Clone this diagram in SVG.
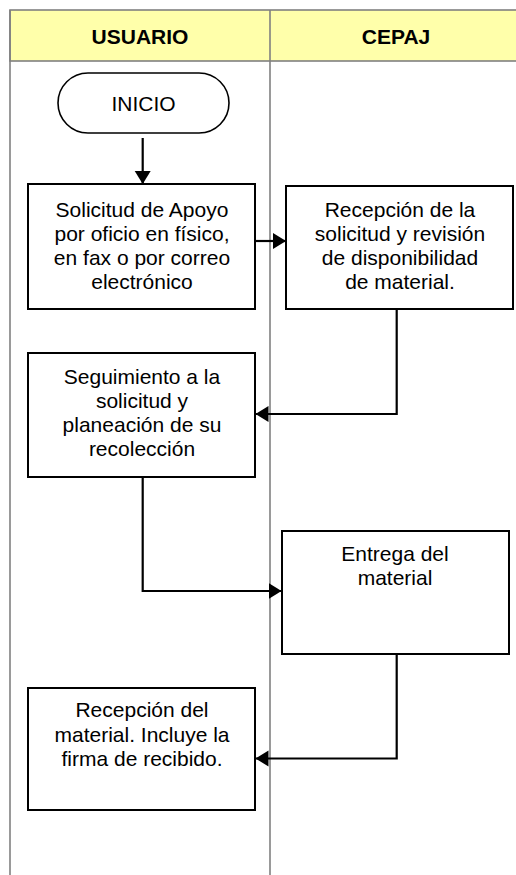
<svg xmlns="http://www.w3.org/2000/svg" width="516" height="875" viewBox="0 0 516 875">
<style>
.lane{stroke:#808080;stroke-width:1.6;fill:none}
.hdr{fill:#FFFFAA;stroke:#808080;stroke-width:1.6}
.ht{font-family:"Liberation Sans",Arial,sans-serif;font-weight:bold;font-size:21px;text-anchor:middle;fill:#000}
.box{fill:#fff;stroke:#000;stroke-width:2}
.t{font-family:"Liberation Sans",Arial,sans-serif;font-size:21px;text-anchor:middle;fill:#000}
.c{fill:none;stroke:#000;stroke-width:2.2;marker-end:url(#ah)}
</style>
<defs>
<marker id="ah" markerUnits="userSpaceOnUse" markerWidth="14" markerHeight="17" refX="13" refY="8" orient="auto">
<path d="M0,0 L13,8 L0,16 z" fill="#000"/>
</marker>
</defs>
<rect width="516" height="875" fill="#fff"/>
<g id="lanes">
<rect class="hdr" x="10" y="10" width="512" height="51"/>
<line class="lane" x1="10" y1="10" x2="10" y2="875"/>
<line class="lane" x1="270" y1="10" x2="270" y2="875"/>
<text class="ht" x="140" y="44">USUARIO</text>
<text class="ht" x="396" y="44">CEPAJ</text>
</g>
<g id="connectors">
<line class="c" x1="142.7" y1="138" x2="142.7" y2="184"/>
<line class="c" x1="255" y1="241" x2="286" y2="241"/>
<polyline class="c" points="396.7,309 396.7,414 255.5,414"/>
<polyline class="c" points="142.7,477 142.7,591 281.5,591"/>
<polyline class="c" points="396.7,654 396.7,758.5 255.5,758.5"/>
</g>
<g id="inicio">
<rect x="58" y="73" width="171" height="60" rx="30" ry="30" fill="#fff" stroke="#000" stroke-width="1.6"/>
<text class="t" x="143.5" y="111">INICIO</text>
</g>
<g id="solicitud">
<rect class="box" x="28" y="184" width="227" height="125"/>
<text class="t" x="142" y="217">Solicitud de Apoyo</text>
<text class="t" x="142" y="241">por oficio en físico,</text>
<text class="t" x="142" y="265">en fax o por correo</text>
<text class="t" x="142" y="289">electrónico</text>
</g>
<g id="recepcion-solicitud">
<rect class="box" x="286" y="186" width="227" height="123"/>
<text class="t" x="400" y="217">Recepción de la</text>
<text class="t" x="400" y="241">solicitud y revisión</text>
<text class="t" x="400" y="265">de disponibilidad</text>
<text class="t" x="400" y="289">de material.</text>
</g>
<g id="seguimiento">
<rect class="box" x="28" y="353" width="227" height="124"/>
<text class="t" x="142" y="384">Seguimiento a la</text>
<text class="t" x="142" y="408">solicitud y</text>
<text class="t" x="142" y="432">planeación de su</text>
<text class="t" x="142" y="456">recolección</text>
</g>
<g id="entrega">
<rect class="box" x="282" y="531" width="227" height="123"/>
<text class="t" x="395" y="561">Entrega del</text>
<text class="t" x="395" y="585">material</text>
</g>
<g id="recepcion-material">
<rect class="box" x="28" y="688" width="227" height="122"/>
<text class="t" x="142" y="717">Recepción del</text>
<text class="t" x="142" y="742">material. Incluye la</text>
<text class="t" x="142" y="766">firma de recibido.</text>
</g>
</svg>
